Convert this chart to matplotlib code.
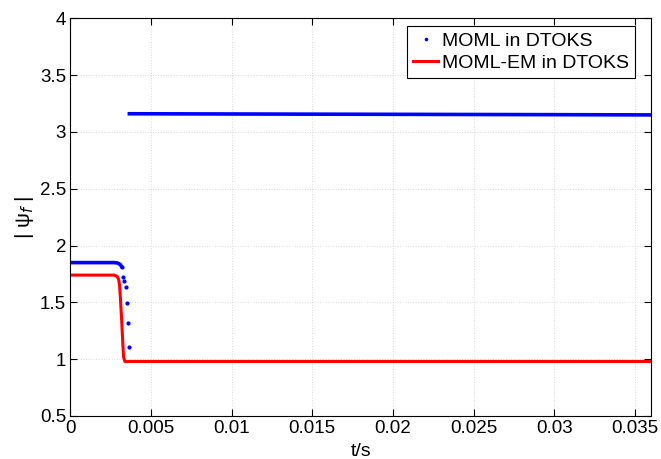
import matplotlib.pyplot as plt

plt.rcParams['font.family'] = ['Liberation Sans', 'DejaVu Sans']

# MOML in DTOKS - flat parts (dense points, drawn as thick line) and the drop (single points)
t_blue_a = [0.0, 0.0027, 0.0029, 0.0030, 0.0031, 0.00318]
psi_blue_a = [1.85, 1.85, 1.847, 1.842, 1.832, 1.814]
t_blue_drop = [0.00318, 0.00328, 0.00335, 0.00345, 0.00351, 0.00357, 0.00364]
psi_blue_drop = [1.814, 1.725, 1.687, 1.632, 1.494, 1.315, 1.109]
t_blue_b = [0.00366, 0.010, 0.020, 0.030, 0.036]
psi_blue_b = [3.160, 3.158, 3.155, 3.152, 3.150]

# MOML-EM in DTOKS
t_red = [0.0, 0.0027, 0.0029, 0.0030, 0.00305, 0.0031, 0.00318, 0.00325, 0.0033, 0.00338, 0.036]
psi_red = [1.74, 1.74, 1.73, 1.70, 1.65, 1.55, 1.35, 1.15, 1.02, 0.98, 0.98]

fig = plt.figure(figsize=(6.61, 4.59), dpi=100)
ax = fig.add_axes([0.1064, 0.0937, 0.8785, 0.8664])

ax.plot(t_blue_a, psi_blue_a, '-', color='blue', lw=2.6)
ax.plot(t_blue_b, psi_blue_b, '-', color='blue', lw=2.6)
ax.plot(t_blue_drop, psi_blue_drop, '.', color='blue', ms=4, label='MOML in DTOKS')
ax.plot(t_red, psi_red, '-', color='red', lw=2.2, label='MOML-EM in DTOKS')

ax.set_xlim(0, 0.036)
ax.set_ylim(0.5, 4)
ax.set_xticks([0, 0.005, 0.01, 0.015, 0.02, 0.025, 0.03, 0.035])
ax.set_xticklabels(['0', '0.005', '0.01', '0.015', '0.02', '0.025', '0.03', '0.035'])
ax.set_yticks([0.5, 1, 1.5, 2, 2.5, 3, 3.5, 4])
ax.set_yticklabels(['0.5', '1', '1.5', '2', '2.5', '3', '3.5', '4'])
ax.tick_params(direction='in', top=True, right=True, length=5, labelsize=13.5, width=0.8, pad=3)
ax.grid(True, linestyle=':', color='#dadada', linewidth=0.7)
for s in ax.spines.values():
    s.set_linewidth(0.8)

ax.set_xlabel('t/s', fontsize=14, labelpad=4)
ax.set_ylabel('| ψ$_f$ |', fontsize=15, labelpad=3)

leg = ax.legend(loc='upper right', bbox_to_anchor=(0.9725, 0.980), fontsize=14,
                fancybox=False, framealpha=1, edgecolor='black', borderpad=0.3,
                handlelength=1.3, handletextpad=0.2, labelspacing=0.25, borderaxespad=0,
                markerscale=0.8)
leg.get_frame().set_linewidth(0.8)

fig.savefig('out.png', dpi=100)
